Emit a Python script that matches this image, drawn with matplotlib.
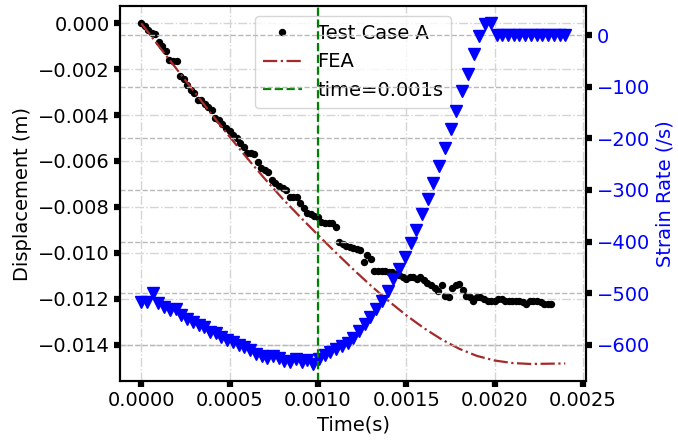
import numpy as np
import matplotlib
matplotlib.use("Agg")
import matplotlib.pyplot as plt

# measured displacement (Test Case A), sampled every 2e-5 s, in mm
test_time = np.arange(117) * 2e-5
test_disp = np.array([
    0.00, -0.13, -0.28, -0.42, -0.46, -0.83, -1.01, -1.23, -1.58, -1.65,
    -1.65, -2.28, -2.45, -2.71, -2.89, -3.02, -3.33, -3.35, -3.50, -3.63,
    -3.76, -4.14, -4.22, -4.38, -4.55, -4.71, -4.86, -4.99, -5.21, -5.38,
    -5.65, -5.66, -5.69, -6.04, -6.30, -6.39, -6.50, -6.83, -6.94, -7.09,
    -7.19, -7.26, -7.56, -7.56, -7.57, -7.85, -8.05, -8.25, -8.31, -8.38,
    -8.43, -8.65, -8.69, -8.72, -8.72, -8.87, -9.53, -9.63, -9.69, -9.75,
    -9.78, -9.82, -9.89, -10.40, -10.11, -10.25, -10.81, -10.77, -10.77, -10.77,
    -10.84, -10.84, -10.91, -10.98, -11.06, -11.13, -11.07, -11.06, -11.13, -11.07,
    -11.20, -11.33, -11.42, -11.55, -11.68, -11.42, -11.86, -11.93, -11.55, -11.42,
    -11.35, -11.64, -11.86, -11.93, -12.08, -11.93, -11.93, -11.99, -12.08, -12.08,
    -12.08, -12.03, -12.00, -12.08, -12.08, -12.08, -12.08, -12.12, -12.15, -12.22,
    -12.12, -12.08, -12.08, -12.15, -12.22, -12.22, -12.22,
]) * 1e-3

# FEA displacement, in mm
fea_time = np.arange(25) * 1e-4
fea_disp = np.array([
    0.00, -1.00, -1.99, -2.98, -3.98, -4.94, -5.88, -6.78, -7.64, -8.44,
    -9.22, -9.98, -10.72, -11.43, -12.10, -12.72, -13.28, -13.77, -14.18, -14.49,
    -14.69, -14.80, -14.84, -14.83, -14.82,
]) * 1e-3

# strain rate (/s)
sr_time = np.linspace(0, 0.0024, 75)
strain_rate = [
    -517, -517, -500, -518, -527, -533, -531, -543, -549, -556,
    -562, -566, -575, -577, -585, -591, -595, -601, -605, -610,
    -617, -621, -626, -622, -625, -631, -633, -628, -633, -629,
    -637, -628, -620, -614, -608, -603, -596, -586, -573, -559,
    -547, -530, -515, -495, -472, -453, -430, -402, -377, -346,
    -317, -286, -253, -219, -182, -147, -108, -75, -37, -2,
    21, 23, 0, 0, 0, 0, 0, 0, 0, 0,
    0, 0, 0, 0, 0,
]

t_mark = 0.001

plt.rcParams['font.size'] = 14

fig = plt.figure(figsize=(6.78, 4.43), dpi=100)
ax1 = fig.add_axes([0.177, 0.140, 0.688, 0.846])

ax1.plot(test_time, test_disp, 'o', color='black', markersize=4.3, label='Test Case A')
ax1.plot(fea_time, fea_disp, '-.', color='brown', linewidth=1.6, label='FEA')
ax1.set_xlabel('Time(s)')
ax1.set_ylabel('Displacement (m)')
ax1.grid(True, linestyle='-.', color='#d5d5d5', linewidth=1)
ax1.tick_params(length=4, width=4.5, direction='out')

ax2 = ax1.twinx()
ax2.plot(sr_time, strain_rate, 'v', color='blue', markersize=8)
vline = ax2.axvline(t_mark, color='green', linestyle='--', linewidth=1.6, label='time=0.001s')
ax2.set_ylabel('Strain Rate (/s)', color='blue')
ax2.tick_params(axis='y', labelcolor='blue', length=4, width=4.5)
ax2.grid(True, linestyle='--', color='#b8b8b8', linewidth=1)

for ax in (ax1, ax2):
    for sp in ax.spines.values():
        sp.set_linewidth(1.5)

h1, l1 = ax1.get_legend_handles_labels()
ax1.legend(h1 + [vline], l1 + ['time=0.001s'], loc='upper center')

fig.savefig('out.png', dpi=100)
